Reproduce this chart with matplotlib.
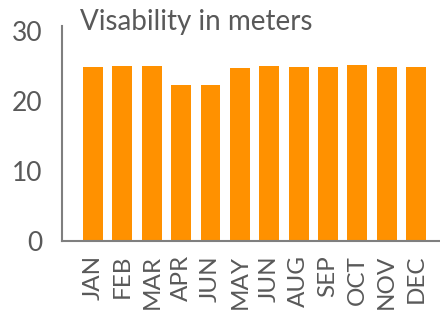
import numpy as np
import matplotlib.pyplot as plt

#--------Data--------#
months = ['JAN', 'FEB', 'MAR', 'APR', 'JUN', 'MAY', 'JUN', 'AUG', 'SEP', 'OCT', 'NOV', 'DEC']
visibility = [24.8, 25.0, 25.0, 22.3, 22.3, 24.7, 25.0, 24.8, 24.8, 25.1, 24.8, 24.8]
yticks = [0, 10, 20, 30]
#--------------------#

plt.rcParams['font.family'] = ['Lato', 'DejaVu Sans']
gray = '#595959'

fig = plt.figure(figsize=(4.4, 3.12), dpi=100)
ax = fig.add_axes([62 / 440, (312 - 241) / 312, 1 - 62 / 440, (241 - 26) / 312])

x = np.arange(len(months))
ax.bar(x, visibility, width=0.68, color='#FF9100')

ax.set_xlim(-1.06, 11.82)
ax.set_ylim(0, 30.7)
ax.set_yticks(yticks)
ax.set_xticks(x)
ax.set_xticklabels(months, rotation=90)
ax.tick_params(axis='y', length=0, labelsize=19, colors=gray, pad=14)
ax.tick_params(axis='x', length=0, labelsize=17.5, colors=gray, pad=10)

for s in ['top', 'right']:
    ax.spines[s].set_visible(False)
for s in ['left', 'bottom']:
    ax.spines[s].set_color('#7f7f7f')
    ax.spines[s].set_linewidth(1.5)

fig.text(80 / 440, 1 - 22 / 312, 'Visability in meters', fontsize=20, color=gray,
         ha='left', va='center')

fig.savefig('out.png', dpi=100)
